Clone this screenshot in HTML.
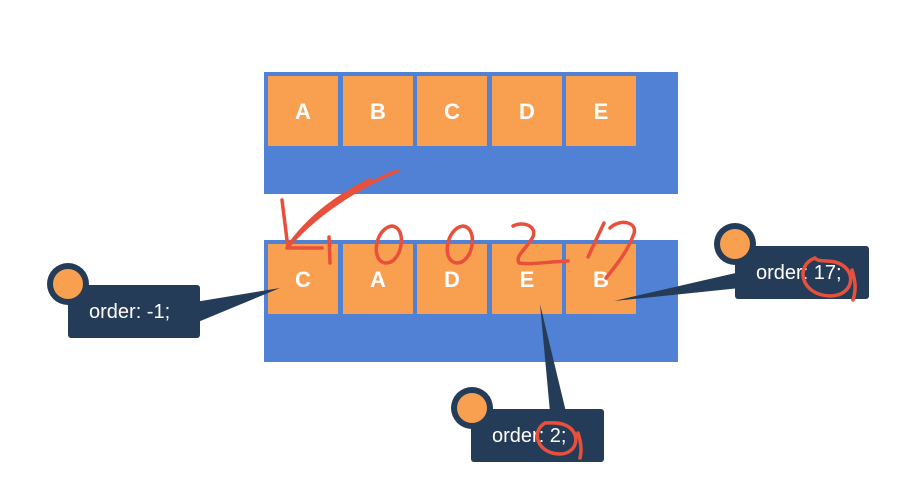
<!DOCTYPE html>
<html><head><meta charset="utf-8"><style>
html,body{margin:0;padding:0;background:#fff;width:905px;height:483px;overflow:hidden}
svg{display:block}
text{font-family:"Liberation Sans",sans-serif}
.lt{fill:#fff;font-weight:bold;font-size:22px;text-anchor:middle}
.ct{fill:#fff;font-size:20px}
.red{fill:none;stroke:#e9503c;stroke-width:3.5;stroke-linecap:round;stroke-linejoin:round}
</style></head><body>
<svg width="905" height="483" viewBox="0 0 905 483">
<rect x="264" y="72" width="414" height="122" fill="#5181d4"/>
<g>
<rect x="268" y="76" width="70" height="70" fill="#f8a050"/><text class="lt" x="303" y="119">A</text>
<rect x="343" y="76" width="70" height="70" fill="#f8a050"/><text class="lt" x="378" y="119">B</text>
<rect x="417" y="76" width="70" height="70" fill="#f8a050"/><text class="lt" x="452" y="119">C</text>
<rect x="492" y="76" width="70" height="70" fill="#f8a050"/><text class="lt" x="527" y="119">D</text>
<rect x="566" y="76" width="70" height="70" fill="#f8a050"/><text class="lt" x="601" y="119">E</text>
</g>
<rect x="264" y="240" width="414" height="122" fill="#5181d4"/>
<g>
<rect x="268" y="244" width="70" height="70" fill="#f8a050"/><text class="lt" x="303" y="287">C</text>
<rect x="343" y="244" width="70" height="70" fill="#f8a050"/><text class="lt" x="378" y="287">A</text>
<rect x="417" y="244" width="70" height="70" fill="#f8a050"/><text class="lt" x="452" y="287">D</text>
<rect x="492" y="244" width="70" height="70" fill="#f8a050"/><text class="lt" x="527" y="287">E</text>
<rect x="566" y="244" width="70" height="70" fill="#f8a050"/><text class="lt" x="601" y="287">B</text>
</g>
<g>
<polygon points="195,302 198,322 280,288" fill="#243c57"/>
<rect x="68" y="285" width="132" height="53" rx="3" fill="#243c57"/>
<circle cx="68" cy="284" r="21" fill="#243c57"/><circle cx="68" cy="284" r="15" fill="#f8a050"/>
<text class="ct" x="89" y="318">order: -1;</text>
</g>
<g>
<polygon points="740,272 740,288 614,301" fill="#243c57"/>
<rect x="735" y="246" width="134" height="53" rx="3" fill="#243c57"/>
<circle cx="735" cy="244" r="21" fill="#243c57"/><circle cx="735" cy="244" r="15" fill="#f8a050"/>
<text class="ct" x="756" y="279">order: 17;</text>
</g>
<g>
<polygon points="540,304 550,412 566,412" fill="#243c57"/>
<rect x="471" y="409" width="133" height="53" rx="3" fill="#243c57"/>
<circle cx="472" cy="408" r="21" fill="#243c57"/><circle cx="472" cy="408" r="15" fill="#f8a050"/>
<text class="ct" x="492" y="442">order: 2;</text>
</g>
<g>
<path class="red" d="M397,171 C350,190 310,220 287,248 M282,200 L288,248 L322,248 M287,248 C310,215 340,195 370,180"/>
<path class="red" d="M329,237 L330,263"/>
<path class="red" d="M392,226 C375,228 370,262 386,263 C402,263 408,228 392,226 Z"/>
<path class="red" d="M463,226 C446,228 441,262 457,263 C473,263 479,228 463,226 Z"/>
<path class="red" d="M513,226 C525,220 540,228 531,240 C525,250 515,256 519,263 C530,265 545,262 568,261"/>
<path class="red" d="M604,223 L588,257 M610,228 C620,218 640,222 633,236 C628,250 618,263 606,278"/>
<path class="red" d="M815,258 C795,265 800,295 830,296 C855,296 858,268 835,262 C825,260 818,262 815,258 M852,270 C856,283 856,290 853,300"/>
<path class="red" d="M545,423 C530,432 538,454 560,454 C578,454 582,432 565,425 C558,422 550,423 545,423 M578,433 C581,442 582,450 580,458"/>
</g>
</svg>
</body></html>
